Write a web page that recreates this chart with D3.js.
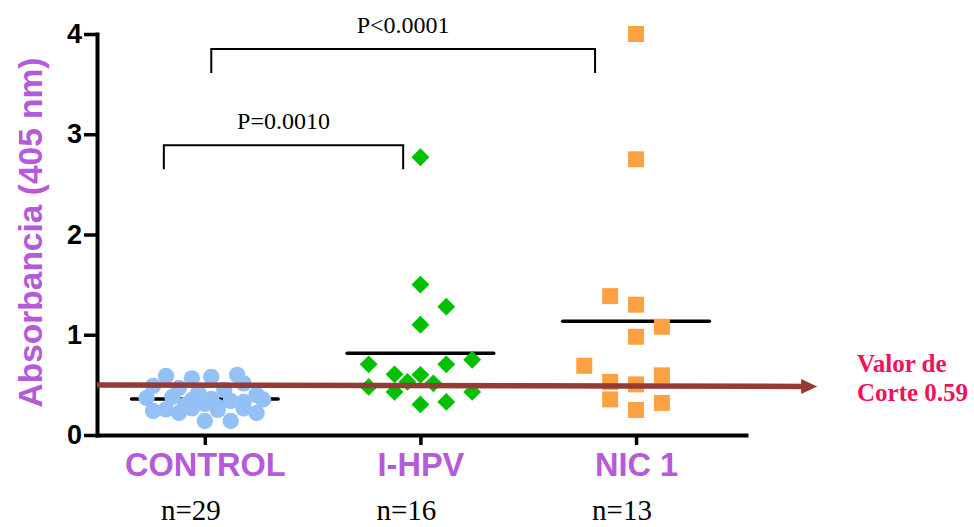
<!DOCTYPE html>
<html>
<head>
<meta charset="utf-8">
<script src="https://cdn.jsdelivr.net/npm/d3@7/dist/d3.min.js"></script>
<style>
    body { margin: 0; background: #ffffff; }
    svg { display: block; }
</style>
</head>
<body>
<svg id="chart" width="974" height="527"></svg>
<script>
// Group names, in order along the x axis
var categories = ["CONTROL", "I-HPV", "NIC 1"];

// Absorbance values, with the column slot each symbol sits in
var controlValues = [0.59, 0.565, 0.58, 0.60, 0.49, 0.515, 0.47, 0.45, 0.42, 0.40,
    0.38, 0.37, 0.36, 0.35, 0.34, 0.355, 0.33, 0.30, 0.28, 0.24,
    0.255, 0.22, 0.265, 0.25, 0.265, 0.22, 0.14, 0.14, 0.31];
var controlSlots = [-3, -1, 0.5, 2.5, -4, 3, -2, 1.5, -0.5, 4,
    -2.5, -4.5, 0.5, -1, 2, 4.5, 3, -1.5, 1, -4,
    -3, -2, -1, 1, 3, 4, 0, 2, 0];

var hpvValues = [2.77, 1.50, 1.28, 1.10, 0.705, 0.705, 0.75, 0.605, 0.60, 0.53,
    0.515, 0.48, 0.43, 0.43, 0.305, 0.33];
var hpvSlots = [0, 0, 2, 0, -4, 2, 4, -2, 0, -1,
    1, -4, -2, 4, 0, 2];

var nicValues = [4.0, 2.75, 1.385, 1.30, 1.08, 0.98, 0.69, 0.53, 0.505, 0.595,
    0.355, 0.25, 0.32];
var nicSlots = [0, 0, -2, 0, 2, 0, -4, -2, 0, 2,
    -2, 0, 2];

var yTicks = [0, 1, 2, 3, 4];

// Significance brackets: [left, right] in column units, top in absorbance units
var bracketLabels = ["P=0.0010", "P<0.0001"];
var bracketSpans = [[-0.19, 0.92], [0.03, 1.81]];
var bracketTops = [2.89, 3.85];

// Cut-off line drawn from the y axis to the arrow head (absorbance at each end)
var cutoffLevels = [0.50, 0.485];
var cutoffText = ["Valor de", "Corte 0.59"];

var svg = d3.select("#chart");

var xScale = d3.scaleLinear().domain([-0.5, 2.51]).range([97, 746]);
var yScale = d3.scaleLinear().domain([0, 4]).range([435, 34]);

// one column slot in category units (about one symbol width)
var slotWidth = 0.06;

var purple = "#b55ad8";

var groups = [
    { values: controlValues, slots: controlSlots, color: "#93c1f5", symbol: d3.symbolCircle, size: 210, rotate: 0 },
    { values: hpvValues, slots: hpvSlots, color: "#00c000", symbol: d3.symbolSquare, size: 160, rotate: 45 },
    { values: nicValues, slots: nicSlots, color: "#fca142", symbol: d3.symbolSquare, size: 256, rotate: 0 }
];

// Axes
var yAxis = d3.axisLeft(yScale)
    .tickValues(yTicks)
    .tickSize(13)
    .tickSizeOuter(0)
    .tickPadding(2)
    .tickFormat(d3.format("d"));

var gy = svg.append("g")
    .attr("transform", "translate(97,0)")
    .call(yAxis);

var xAxis = d3.axisBottom(xScale)
    .tickValues([0, 1, 2])
    .tickSize(10)
    .tickSizeOuter(0)
    .tickPadding(8)
    .tickFormat(function(d) { return categories[d]; });

var gx = svg.append("g")
    .attr("transform", "translate(0,435)")
    .call(xAxis);

[gx, gy].forEach(function(g) {
    g.select(".domain")
        .attr("stroke", "#000")
        .attr("stroke-width", 4)
        .attr("stroke-linecap", "square");
    g.selectAll(".tick line")
        .attr("stroke", "#000")
        .attr("stroke-width", 3.5);
});

gy.selectAll(".tick text")
    .attr("fill", "#000")
    .style("font-family", "'Liberation Sans', Arial, sans-serif")
    .style("font-weight", "bold")
    .style("font-size", "27px");

gx.selectAll(".tick text")
    .attr("fill", purple)
    .style("font-family", "'Liberation Sans', Arial, sans-serif")
    .style("font-weight", "bold")
    .style("font-size", "32.5px");

// Y title
svg.append("text")
    .attr("transform", "translate(30," + yScale(2.02) + ") rotate(-90)")
    .attr("text-anchor", "middle")
    .attr("dy", "0.35em")
    .attr("fill", purple)
    .style("font-family", "'Liberation Sans', Arial, sans-serif")
    .style("font-weight", "bold")
    .style("font-size", "33.5px")
    .text("Absorbancia (405 nm)");

// Sample sizes under each column
svg.selectAll("text.nlabel")
    .data(groups)
    .enter().append("text")
    .attr("class", "nlabel")
    .attr("x", function(d, i) { return xScale(i) - 14; })
    .attr("y", 520)
    .attr("text-anchor", "middle")
    .style("font-family", "'Liberation Serif', 'Times New Roman', serif")
    .style("font-size", "29px")
    .text(function(d) { return "n=" + d.values.length; });

// Mean lines, behind the symbols
svg.selectAll("line.mean")
    .data(groups)
    .enter().append("line")
    .attr("class", "mean")
    .attr("x1", function(d, i) { return xScale(i - 0.34); })
    .attr("x2", function(d, i) { return xScale(i + 0.34); })
    .attr("y1", function(d) { return yScale(d3.mean(d.values)); })
    .attr("y2", function(d) { return yScale(d3.mean(d.values)); })
    .attr("stroke", "#000")
    .attr("stroke-width", 3.5)
    .attr("stroke-linecap", "round");

// Scatter symbols
groups.forEach(function(group, i) {
    var shape = d3.symbol().type(group.symbol).size(group.size);
    svg.append("g")
        .selectAll("path")
        .data(group.values)
        .enter().append("path")
        .attr("d", shape)
        .attr("fill", group.color)
        .attr("transform", function(d, j) {
            var x = xScale(i + group.slots[j] * slotWidth);
            return "translate(" + x + "," + yScale(d) + ") rotate(" + group.rotate + ")";
        });
});

// Brackets with p values
bracketLabels.forEach(function(label, i) {
    var x1 = xScale(bracketSpans[i][0]);
    var x2 = xScale(bracketSpans[i][1]);
    var top = yScale(bracketTops[i]);
    var legEnd = yScale(bracketTops[i] - 0.24);
    svg.append("path")
        .attr("d", "M" + x1 + "," + legEnd + "V" + top + "H" + x2 + "V" + legEnd)
        .attr("fill", "none")
        .attr("stroke", "#000")
        .attr("stroke-width", 2);
    svg.append("text")
        .attr("x", (x1 + x2) / 2)
        .attr("y", top - 16)
        .attr("text-anchor", "middle")
        .style("font-family", "'Liberation Serif', 'Times New Roman', serif")
        .style("font-size", "24px")
        .text(label);
});

// Cut-off arrow, drawn over the symbols
var arrowEnd = 2.84;
var cutColor = "#953a35";
var ax1 = xScale(-0.5), ay1 = yScale(cutoffLevels[0]);
var ax2 = xScale(arrowEnd), ay2 = yScale(cutoffLevels[1]);

svg.append("line")
    .attr("x1", ax1)
    .attr("y1", ay1)
    .attr("x2", ax2 - 14)
    .attr("y2", ay2)
    .attr("stroke", cutColor)
    .attr("stroke-width", 5.5);

svg.append("path")
    .attr("d", "M" + ax2 + "," + ay2 + "L" + (ax2 - 16) + "," + (ay2 - 7.5) +
        "L" + (ax2 - 16) + "," + (ay2 + 7.5) + "Z")
    .attr("fill", cutColor);

svg.selectAll("text.cut")
    .data(cutoffText)
    .enter().append("text")
    .attr("class", "cut")
    .attr("x", 857)
    .attr("y", function(d, i) { return 372 + i * 29; })
    .attr("fill", "#f0115c")
    .style("font-family", "'Liberation Serif', 'Times New Roman', serif")
    .style("font-weight", "bold")
    .style("font-size", "25px")
    .text(function(d) { return d; });
</script>
</body>
</html>
